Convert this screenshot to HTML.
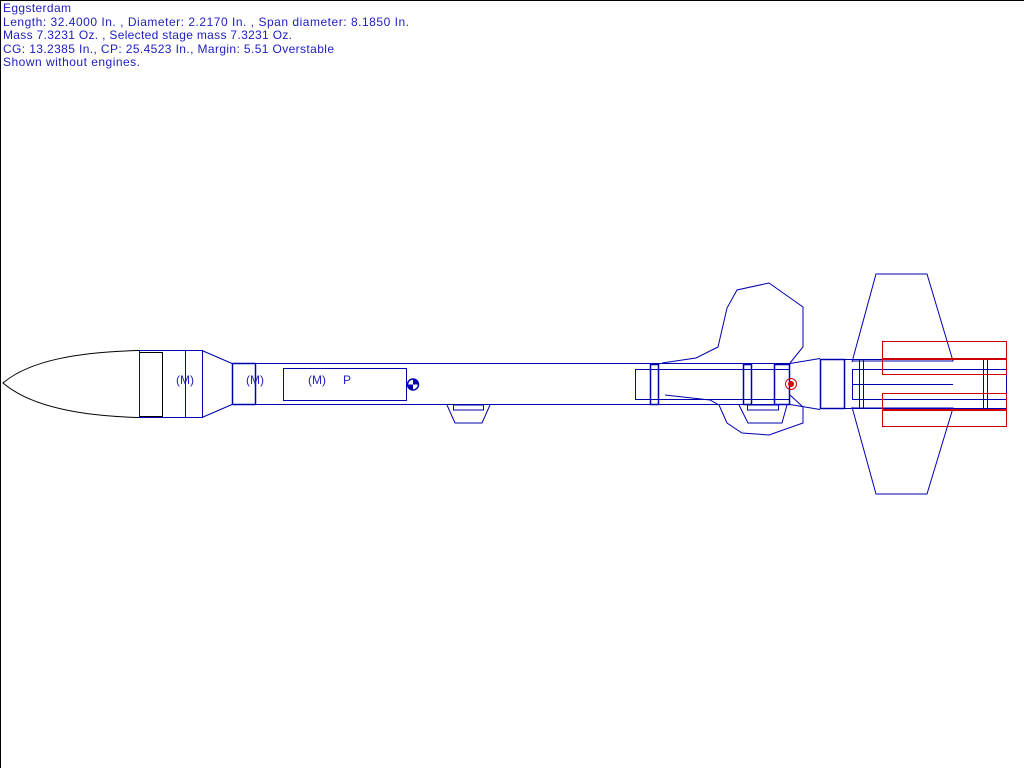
<!DOCTYPE html>
<html><head><style>
html,body{margin:0;padding:0;background:#fff;}
svg{display:block;}
text{font-family:"Liberation Sans",sans-serif;font-size:12px;fill:#2020c0;}
</style></head><body>
<svg width="1024" height="768" viewBox="0 0 1024 768" xmlns="http://www.w3.org/2000/svg">
<rect x="0" y="0" width="1024" height="768" fill="#fff"/>
<line x1="0.5" y1="0" x2="0.5" y2="768" stroke="#000"/>
<line x1="0" y1="0.5" x2="1024" y2="0.5" stroke="#000"/>
<text x="3" y="12" textLength="68">Eggsterdam</text>
<text x="3" y="26" textLength="406">Length: 32.4000 In. , Diameter: 2.2170 In. , Span diameter: 8.1850 In.</text>
<text x="3" y="39" textLength="289">Mass 7.3231 Oz. , Selected stage mass 7.3231 Oz.</text>
<text x="3" y="53" textLength="331">CG: 13.2385 In., CP: 25.4523 In., Margin: 5.51 Overstable</text>
<text x="3" y="66" textLength="137">Shown without engines.</text>

<g fill="none" stroke-width="1">
<!-- nose cone -->
<path d="M139,350.5 C80,352 30,360 3,383 C30,406 80,416 139,417.5" stroke="#000"/>
<rect x="139.5" y="352.5" width="23" height="64" stroke="#000"/>
<g stroke="#0000b0">
<rect x="139.5" y="350.5" width="63" height="67"/>
<line x1="185.5" y1="350" x2="185.5" y2="418"/>
<path d="M202,350.5 L232,363.5 M202,417.5 L232,404.5"/>
<rect x="232.5" y="363.5" width="23" height="41" stroke-width="1.5"/>
<rect x="232.5" y="363.5" width="557" height="41"/>
<rect x="283.5" y="368.5" width="123" height="32"/>
<!-- lower launch lug left -->
<path d="M447,405 L455,423 L482,423 L490,405"/>
<rect x="453.5" y="405" width="30" height="5"/>
<!-- inner tube -->
<rect x="635.5" y="369.5" width="154" height="30"/>
<rect x="650.5" y="364.5" width="8" height="40" stroke-width="1.5"/>
<rect x="743.5" y="364.5" width="8" height="40" stroke-width="1.5"/>
<rect x="774.5" y="364.5" width="15" height="40" stroke-width="1.5"/>
<!-- upper forward fin -->
<polyline points="662,363 696,358 718,347 727,308 737,290 769,283 803,307 803,347 790,363"/>
<!-- lower forward fin -->
<polyline points="665,395 710,400 719,405 727,423 742,433 769,435 803,423 803,407 790,395"/>
<path d="M739,405 L748,423 L782,423 L787,405"/>
<rect x="747.5" y="405" width="31" height="5"/>
<!-- transition -->
<path d="M790,363.5 L820,358.5 M790,404.5 L820,409.5"/>
<rect x="820.5" y="359.5" width="24" height="49" stroke-width="1.5"/>
<rect x="844.5" y="359.5" width="162" height="49"/>
<rect x="852.5" y="369.5" width="154" height="30"/>
<line x1="852" y1="384.5" x2="953" y2="384.5"/>
<line x1="859.5" y1="359" x2="859.5" y2="409"/>
<line x1="863.5" y1="359" x2="863.5" y2="409"/>
<line x1="983.5" y1="359" x2="983.5" y2="409"/>
<line x1="987.5" y1="359" x2="987.5" y2="409"/>
<!-- aft fins -->
<polyline points="852,362 876,274 927,274 953,361 852,361"/>
<polyline points="852,407 876,494 927,494 953,408 852,408"/>
</g>
<g stroke="#d00000">
<rect x="882.5" y="341.5" width="124" height="33"/>
<rect x="882.5" y="393.5" width="124" height="33"/>
<line x1="882" y1="359" x2="1007" y2="359" stroke-width="2"/>
<line x1="882" y1="410" x2="1007" y2="410" stroke-width="2"/>
</g>
</g>
<text x="176" y="384">(M)</text>
<text x="246" y="384">(M)</text>
<text x="308" y="384">(M)</text>
<text x="343" y="384">P</text>
<!-- CG -->
<circle cx="413" cy="384.5" r="5.5" fill="#fff" stroke="#0000b0" stroke-width="1.5"/>
<path d="M413,384.5 L413,379 A5.5,5.5 0 0 1 418.5,384.5 Z" fill="#0000b0"/>
<path d="M413,384.5 L413,390 A5.5,5.5 0 0 1 407.5,384.5 Z" fill="#0000b0"/>
<!-- CP -->
<circle cx="791" cy="384" r="5.5" fill="none" stroke="#d00000"/>
<circle cx="791" cy="384" r="3" fill="#e00000"/>
</svg>
</body></html>
